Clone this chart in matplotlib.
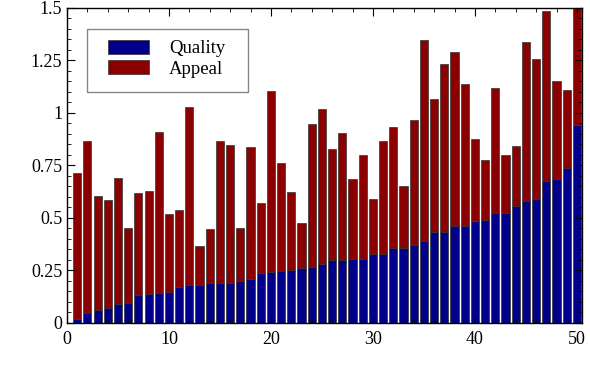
import numpy as np
import matplotlib
matplotlib.use("Agg")
import matplotlib.pyplot as plt
from matplotlib.patches import Rectangle
from matplotlib.ticker import MultipleLocator, FuncFormatter

# Werte
items = list(range(1, 51))
quality = [0.018, 0.044, 0.062, 0.070, 0.090, 0.093, 0.130, 0.139, 0.141, 0.146,
           0.168, 0.179, 0.180, 0.187, 0.187, 0.191, 0.201, 0.207, 0.237, 0.240,
           0.245, 0.252, 0.263, 0.267, 0.282, 0.299, 0.301, 0.305, 0.305, 0.327,
           0.327, 0.356, 0.356, 0.369, 0.388, 0.432, 0.432, 0.459, 0.459, 0.484,
           0.489, 0.521, 0.525, 0.555, 0.578, 0.589, 0.674, 0.685, 0.736, 0.943]
total = [0.712, 0.867, 0.604, 0.584, 0.691, 0.449, 0.620, 0.626, 0.911, 0.519,
         0.536, 1.030, 0.365, 0.448, 0.865, 0.846, 0.449, 0.839, 0.571, 1.104,
         0.761, 0.623, 0.475, 0.949, 1.019, 0.826, 0.906, 0.687, 0.801, 0.589,
         0.865, 0.933, 0.650, 0.967, 1.348, 1.066, 1.233, 1.291, 1.136, 0.877,
         0.774, 1.119, 0.797, 0.842, 1.338, 1.256, 1.484, 1.152, 1.109, 1.56]
appeal = [t - q for t, q in zip(total, quality)]

plt.rcParams['font.family'] = ['Liberation Serif', 'DejaVu Serif']

fig = plt.figure(figsize=(5.9, 3.9), dpi=100)
ax = fig.add_axes([67 / 590, 1 - 322.7 / 390, (582 - 67) / 590, (322.7 - 8) / 390])

b1 = ax.bar(items, quality, width=0.8, color='#00008b', edgecolor='#333333', linewidth=0.5)
b2 = ax.bar(items, appeal, width=0.8, bottom=quality, color='#8b0000', edgecolor='#333333', linewidth=0.5)

ax.set_xlim(0, 50.5)
ax.set_ylim(0, 1.5)
ax.xaxis.set_major_locator(MultipleLocator(10))
ax.xaxis.set_minor_locator(MultipleLocator(2))
ax.yaxis.set_major_locator(MultipleLocator(0.25))
ax.yaxis.set_minor_locator(MultipleLocator(0.05))
ax.yaxis.set_major_formatter(FuncFormatter(lambda v, p: f"{v:g}"))

ax.tick_params(which='both', direction='in', top=True, right=True, labelsize=13)
ax.tick_params(which='major', length=5.4, width=0.8)
ax.tick_params(which='minor', length=2.9, width=0.6)
ax.tick_params(axis='x', pad=6)
ax.tick_params(axis='y', pad=3.5)
for s in ax.spines.values():
    s.set_linewidth(1.0)

# Legende: Rahmen von Hand, Einträge ohne Rahmen
box = Rectangle((87 / 590, 1 - 92 / 390), (248 - 87) / 590, (92 - 29) / 390,
                transform=fig.transFigure, facecolor='white', edgecolor='#888888',
                linewidth=1.0, zorder=5, clip_on=False)
ax.add_artist(box)
leg = ax.legend(handles=[b1, b2], labels=['Quality', 'Appeal'], loc='upper left',
                bbox_to_anchor=(108 / 590, 1 - 39.5 / 390), bbox_transform=fig.transFigure,
                frameon=False, fontsize=13.5, borderpad=0, borderaxespad=0,
                handlelength=2.19, handleheight=0.8, handletextpad=1.07, labelspacing=0.155)
leg.set_zorder(6)

fig.savefig('out.png', dpi=100)
